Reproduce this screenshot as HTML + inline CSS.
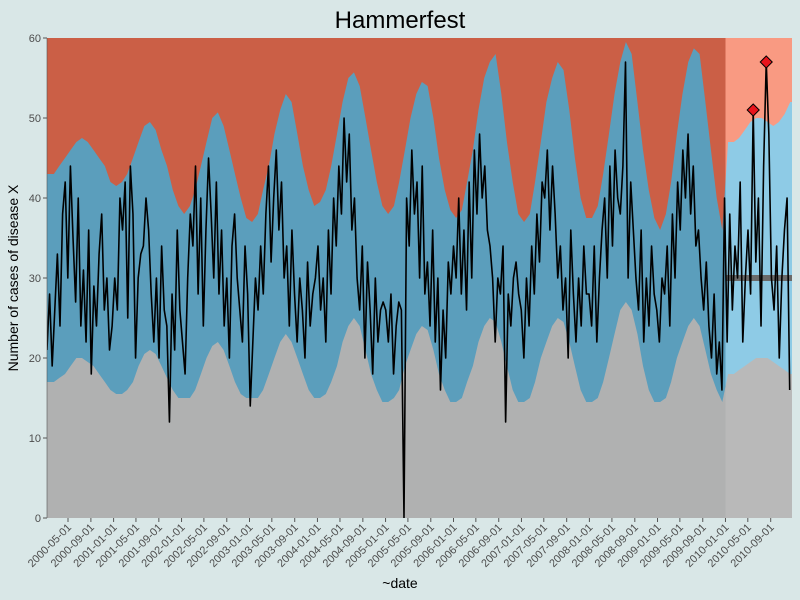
<!DOCTYPE html>
<html><head><meta charset="utf-8"><title>Hammerfest</title>
<style>
html,body{margin:0;padding:0;background:#d9e7e7;}
svg{display:block;font-family:"Liberation Sans",sans-serif;}
</style></head>
<body>
<svg id="chart" width="800" height="600" viewBox="0 0 800 600">
<rect x="0" y="0" width="800" height="600" fill="#d9e7e7"/>
<text x="400" y="28" text-anchor="middle" font-size="24" fill="#000">Hammerfest</text>
<text x="400" y="588" text-anchor="middle" font-size="14" fill="#000">~date</text>
<text transform="translate(18,278) rotate(-90)" text-anchor="middle" font-size="14" fill="#000">Number of cases of disease X</text>
<g id="plot"></g>
<g id="axes"></g>
</svg>
<script>
// monthly thresholds, Jan 2000 .. Dec 2010
const upperThreshold = [
43,43,44,45,46,47,47.5,47,46,45,44,42,
41.5,42,43,45,47,49,49.5,48.5,46,44,41,39,
38,39,41,44,47,50,50.7,49,46,43,40,37.5,
37,38,41,44,48,51,53,52,48,44,41,39,
39.5,41,44,48,52,55,55.7,54,50,46,42,39,
38,39,42,46,50,53,54.5,54,50,45,41,38.5,
37.5,38.5,42,46,51,55,57,58,53,47,42,38,
37,38,42,47,52,55,57,56,51,45,40,37.5,
37.5,39,43,48,53,57,59.5,58,52,46,41,37.5,
36,38,42,48,53,57,58.7,58,52,46,40,36,
47,47,47.5,48.5,49.5,50,50,49.5,49,49.5,50.5,52];
const lowerThreshold = [
17,17,17.5,18,19,20,20,19.5,19,18,17,16,
15.5,15.5,16,17,19,20.5,21,20.5,19,17.5,16,15,
15,15,16,18,20,21.5,22,21,19,17,15.5,15,
15,15,16,18,20,22,23,22,20,18,16,15,
15,15.5,17,19,22,24,25,24,21,18,16,14.5,
14.5,15,16,19,21,23,24,23.5,21,18,16,14.5,
14.5,15,17,19,22,24,25,24.5,22,19,16,14.5,
14.5,15,17,20,22,24,25,24.5,22,19,16,14.5,
14.5,15,17,20,23,26,27,26,23,19,16,14.5,
14.5,15,17,20,22,24,25,24,21,18,16,14.5,
18,18,18.5,19,19.5,20,20,20,19.5,19,18.5,18];
// biweekly observed cases from 2000-01-09
const cases = [
21,28,19,26,33,24,38,42,30,44,35,27,40,24,31,22,36,18,29,24,33,38,26,30,21,24,
30,26,40,36,42,25,44,38,20,30,33,34,40,36,28,22,30,20,34,26,24,12,28,21,36,26,
22,18,30,38,34,44,28,40,24,36,45,38,30,42,28,36,24,30,20,34,38,30,26,22,34,28,
14,22,30,26,34,28,38,44,32,40,46,36,42,30,34,24,36,28,22,30,26,20,32,24,28,30,
34,26,30,22,36,28,40,34,44,38,50,42,48,36,40,30,26,34,20,32,26,18,30,22,26,27,
26,22,28,18,24,27,26,0,40,34,46,38,42,30,44,28,32,24,36,22,30,16,26,20,32,28,
34,30,40,28,36,26,42,30,46,38,48,40,44,36,34,30,22,30,28,34,12,28,24,30,32,28,
26,20,30,24,34,28,38,32,42,40,46,36,44,38,30,34,26,30,20,36,28,22,30,24,34,28,
28,24,34,22,30,36,40,30,44,34,46,40,38,44,57,30,42,36,30,26,36,22,30,24,34,28,
26,22,30,28,34,24,38,30,42,36,46,40,48,38,44,34,36,30,26,32,24,20,28,18,22,16,
40,22,38,26,34,30,42,22,30,36,28,51,32,40,24,44,57,48,30,26,34,20,30,36,40,16];
const yTicks = [0,10,20,30,40,50,60];
const xTickLabels = ["2000-05-01","2000-09-01","2001-01-01","2001-05-01","2001-09-01","2002-01-01","2002-05-01","2002-09-01","2003-01-01","2003-05-01","2003-09-01","2004-01-01","2004-05-01","2004-09-01","2005-01-01","2005-05-01","2005-09-01","2006-01-01","2006-05-01","2006-09-01","2007-01-01","2007-05-01","2007-09-01","2008-01-01","2008-05-01","2008-09-01","2009-01-01","2009-05-01","2009-09-01","2010-01-01","2010-05-01","2010-09-01"];
const expectedLevel = [30];
const startDate = "2000-01-09";
const splitDate = "2010-01-01";

const NS="http://www.w3.org/2000/svg";
const L=47,R=792,T=38,B=518;
const DAY=86400000;
const t0=Date.parse("2000-05-01"), t1=Date.parse("2010-09-01");
const pxPerDay=(770.7-68)/((t1-t0)/DAY);
function xDate(ms){return 68+((ms-t0)/DAY)*pxPerDay;}
function yv(v){return B-(v/60)*(B-T);}
function mk(tag,attrs,parent){const e=document.createElementNS(NS,tag);for(const k in attrs)e.setAttribute(k,attrs[k]);parent.appendChild(e);return e;}
const svg=document.getElementById('chart');
const plot=document.getElementById('plot');
const axes=document.getElementById('axes');
const xs=Date.parse(splitDate);const xSplit=xDate(xs);
const defs=mk('defs',{},svg);
const c1=mk('clipPath',{id:'cpA'},defs);mk('rect',{x:L,y:T,width:xSplit-L,height:B-T},c1);
const c2=mk('clipPath',{id:'cpB'},defs);mk('rect',{x:xSplit,y:T,width:R-xSplit,height:B-T},c2);
const c3=mk('clipPath',{id:'cpAll'},defs);mk('rect',{x:L,y:T,width:R-L,height:B-T},c3);
function monthX(i){const y=2000+Math.floor(i/12),m=i%12;return xDate(Date.UTC(y,m,15));}
function areaPath(arr){let d=`M${L-30},${B} L${L-30},${yv(arr[0])}`;arr.forEach((v,i)=>{d+=` L${monthX(i)},${yv(v)}`;});d+=` L${R+30},${yv(arr[arr.length-1])} L${R+30},${B} Z`;return d;}
function bands(clip,cols,tag){
  const g=mk('g',{'clip-path':`url(#${clip})`},plot);
  
  
  const r=mk('rect',{x:L,y:T,width:R-L,height:B-T,fill:cols[0]},g);
  
  
  const u=mk('path',{d:areaPath(upperThreshold),fill:cols[1]},g);
  
  
  const lo=mk('path',{d:areaPath(lowerThreshold),fill:cols[2]},g);
  
  
}
bands('cpA',['#cb5f46','#5b9ebc','#b0b1b1'],'history');
bands('cpB',['#f99a82','#8ecbe6','#b9b9b9'],'current');
const ex=mk('line',{x1:xSplit,x2:R,y1:yv(expectedLevel[0]),y2:yv(expectedLevel[0]),stroke:'#6a6a6a',"stroke-width":6},plot);


const st=Date.parse(startDate);
const pts=cases.map((v,i)=>[xDate(st+i*14*DAY),yv(v)]);
const ln=mk('polyline',{points:pts.map(p=>p.join(',')).join(' '),fill:'none',stroke:'#000',"stroke-width":1.6,"stroke-linejoin":'round','clip-path':'url(#cpAll)'},plot);


cases.forEach((v,i)=>{
  const ms=st+i*14*DAY; if(ms<xs) return;
  const d=new Date(ms); const mi=(d.getUTCFullYear()-2000)*12+d.getUTCMonth();
  if(v>upperThreshold[mi]){
    const [x,y]=pts[i];
    const p=mk('polygon',{points:`${x},${y-6} ${x+6},${y} ${x},${y+6} ${x-6},${y}`,fill:'#e8141c',stroke:'#000',"stroke-width":1},plot);
    
    
  }
});
mk('line',{x1:L,x2:L,y1:T,y2:B,stroke:'#555',"stroke-width":0.6},axes);
yTicks.forEach(v=>{
  const y=yv(v);
  const tk=mk('line',{x1:L-4,x2:L,y1:y,y2:y,stroke:'#555'},axes);
  
  
  const t=mk('text',{x:L-6,y:y+4,"text-anchor":'end',"font-size":11,fill:'#4d4d4d'},axes);
  t.textContent=v;
  
  
});
xTickLabels.forEach(s=>{
  const x=xDate(Date.parse(s));
  const tk=mk('line',{x1:x,x2:x,y1:B,y2:B+4,stroke:'#555'},axes);
  
  
  const t=mk('text',{transform:`translate(${x+4},${B+10}) rotate(-45)`,"text-anchor":'end',"font-size":11,fill:'#4d4d4d'},axes);
  t.textContent=s;
  
  
});
</script>
</body></html>
